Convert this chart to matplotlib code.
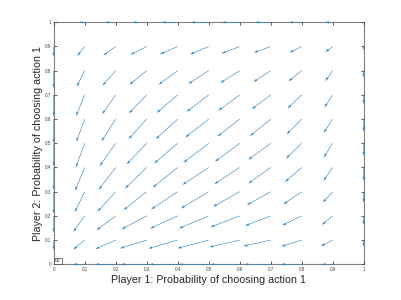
import matplotlib
matplotlib.use("Agg")
import matplotlib.pyplot as plt
import numpy as np

# grid of strategy probabilities (player 1 on x, player 2 on y)
p1 = [0.0, 0.1, 0.2, 0.3, 0.4, 0.5, 0.6, 0.7, 0.8, 0.9, 1.0]
p2 = [0.0, 0.1, 0.2, 0.3, 0.4, 0.5, 0.6, 0.7, 0.8, 0.9, 1.0]
tick_labels = ["0", "0.1", "0.2", "0.3", "0.4", "0.5", "0.6", "0.7", "0.8", "0.9", "1"]

# change of player 1 probability, one row per p2 value (p2 = 0 first)
dx = [
    [0, -0.037, -0.066, -0.084, -0.092, -0.097, -0.095, -0.085, -0.066, -0.036, 0],
    [0, -0.037, -0.066, -0.086, -0.095, -0.101, -0.098, -0.088, -0.066, -0.038, 0],
    [0, -0.037, -0.062, -0.081, -0.089, -0.096, -0.094, -0.083, -0.063, -0.035, 0],
    [0, -0.032, -0.059, -0.075, -0.086, -0.090, -0.086, -0.077, -0.059, -0.032, 0],
    [0, -0.031, -0.055, -0.070, -0.081, -0.085, -0.082, -0.072, -0.054, -0.030, 0],
    [0, -0.029, -0.052, -0.065, -0.076, -0.082, -0.080, -0.072, -0.051, -0.029, 0],
    [0, -0.027, -0.046, -0.059, -0.071, -0.076, -0.072, -0.067, -0.049, -0.029, 0],
    [0, -0.028, -0.044, -0.057, -0.068, -0.071, -0.069, -0.061, -0.046, -0.027, 0],
    [0, -0.026, -0.043, -0.056, -0.062, -0.066, -0.063, -0.056, -0.043, -0.024, 0],
    [0, -0.024, -0.040, -0.053, -0.057, -0.060, -0.059, -0.054, -0.039, -0.024, 0],
    [0, -0.020, -0.034, -0.046, -0.052, -0.058, -0.058, -0.050, -0.041, -0.025, 0],
]

# change of player 2 probability, same layout
dy = [
    [0, 0, 0, 0, 0, 0, 0, 0, 0, 0, 0],
    [-0.041, -0.039, -0.037, -0.034, -0.035, -0.034, -0.029, -0.025, -0.026, -0.025, -0.027],
    [-0.069, -0.066, -0.059, -0.055, -0.052, -0.052, -0.046, -0.041, -0.039, -0.037, -0.037],
    [-0.090, -0.084, -0.083, -0.076, -0.073, -0.069, -0.062, -0.055, -0.052, -0.045, -0.045],
    [-0.093, -0.096, -0.092, -0.087, -0.083, -0.072, -0.069, -0.066, -0.060, -0.055, -0.055],
    [-0.094, -0.100, -0.094, -0.087, -0.083, -0.080, -0.076, -0.068, -0.063, -0.059, -0.052],
    [-0.098, -0.094, -0.092, -0.083, -0.083, -0.076, -0.072, -0.070, -0.063, -0.057, -0.051],
    [-0.089, -0.087, -0.080, -0.076, -0.074, -0.070, -0.065, -0.059, -0.056, -0.052, -0.038],
    [-0.073, -0.066, -0.062, -0.058, -0.058, -0.055, -0.051, -0.047, -0.044, -0.043, -0.028],
    [-0.042, -0.039, -0.037, -0.034, -0.032, -0.032, -0.029, -0.025, -0.025, -0.023, -0.015],
    [0, 0, 0, 0, 0, 0, 0, 0, 0, 0, 0],
]

plt.rcParams["font.family"] = ["Liberation Sans", "DejaVu Sans"]

fig = plt.figure(figsize=(4.02, 3.0), dpi=100)
ax = fig.add_axes([0.1336, 0.119, 0.7711, 0.8067])

for s in ax.spines.values():
    s.set_color("#808080")
    s.set_linewidth(0.8)
    s.set_zorder(1)

X, Y = np.meshgrid(p1, p2)
# arrows on the box edges sit on top of the axis lines, as in the original
ax.quiver(X, Y, np.array(dx), np.array(dy), angles="xy", scale_units="xy", scale=1,
          color="#2f86c8", width=0.0019, headwidth=4.0, headlength=7,
          headaxislength=6.5, zorder=4, clip_on=False)

ax.set_xlim(0, 1)
ax.set_ylim(0, 1)
ax.set_xticks(p1)
ax.set_yticks(p2)
ax.set_xticklabels(tick_labels)
ax.set_yticklabels(tick_labels)
ax.tick_params(direction="in", length=2.5, width=0.6, labelsize=3.3, pad=2,
               top=True, right=True, colors="#404040")

ax.set_xlabel("Player 1: Probability of choosing action 1", fontsize=7.7,
              color="#262626", labelpad=2)
ax.set_ylabel("Player 2: Probability of choosing action 1", fontsize=7.7,
              color="#262626", labelpad=1)

# small boxed marker at the origin
ax.text(0.004, 0.004, "NE", fontsize=3, color="#262626", ha="left", va="bottom",
        bbox=dict(boxstyle="square,pad=0.25", fc="white", ec="#404040", lw=0.5),
        zorder=5)

fig.savefig("out.png", dpi=100)
